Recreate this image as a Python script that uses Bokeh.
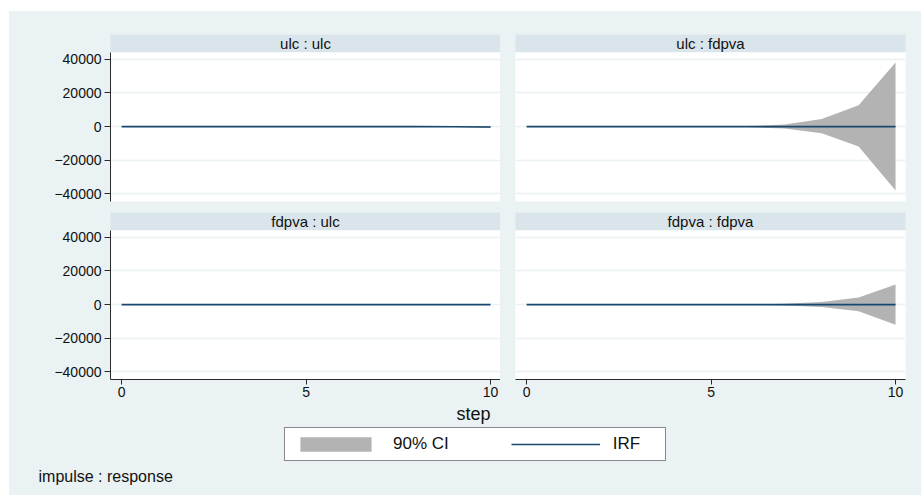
from bokeh.plotting import figure
from bokeh.layouts import column, row, Spacer
from bokeh.models import (Range1d, FixedTicker, Grid, Label, Legend, LegendItem,
                          ColumnDataSource)
from bokeh.embed import file_html
from bokeh.resources import INLINE

# ---------------- data ----------------
steps = [0, 1, 2, 3, 4, 5, 6, 7, 8, 9, 10]

ulc_ulc_irf = [0, 0, 0, 0, 0, 0, 0, 0, -20, -80, -250]
ulc_ulc_lo = [0, 0, 0, 0, 0, 0, 0, -30, -100, -300, -900]
ulc_ulc_hi = [0, 0, 0, 0, 0, 0, 0, 20, 60, 150, 400]

ulc_fdpva_irf = [0, 0, 0, 0, 0, 0, 0, 0, 0, 0, 0]
ulc_fdpva_lo = [0, 0, 0, 0, 0, -20, -300, -1200, -3950, -11850, -37900]
ulc_fdpva_hi = [0, 0, 0, 0, 0, 20, 300, 1200, 4500, 12600, 38100]

fdpva_ulc_irf = [0, 0, 0, 0, 0, 0, 0, 0, 0, 0, 0]
fdpva_ulc_lo = [0, 0, 0, 0, 0, 0, 0, 0, 0, 0, 0]
fdpva_ulc_hi = [0, 0, 0, 0, 0, 0, 0, 0, 0, 0, 0]

fdpva_fdpva_irf = [0, 0, 0, 0, 0, 0, 0, 0, 0, 0, 0]
fdpva_fdpva_lo = [0, 0, 0, 0, 0, 0, -100, -500, -1390, -3980, -11940]
fdpva_fdpva_hi = [0, 0, 0, 0, 0, 0, 100, 500, 1590, 4180, 11940]

panel_titles = ["ulc : ulc", "ulc : fdpva", "fdpva : ulc", "fdpva : fdpva"]
y_ticks = [-40000, -20000, 0, 20000, 40000]
x_ticks = [0, 5, 10]
legend_labels = ["90% CI", "IRF"]
x_title = "step"
note = "impulse : response"

# ---------------- style ----------------
BG = "#EAF2F3"
HDR = "#D9E5EA"
GRID = "#EAF2F3"
CI = "#B3B3B3"
IRF_C = "#1A476F"
AXIS_C = "#2a2a2a"
FONT = "Liberation Sans"

LEFT_W, RIGHT_W = 491, 421


def side_borders(left):
    return dict(min_border_left=101 if left else 15,
                min_border_right=0 if left else 16)


def header(text, left, top):
    p = figure(width=LEFT_W if left else RIGHT_W, height=41 if top else 18,
               x_range=Range1d(0, 1), y_range=Range1d(0, 1),
               x_axis_location=None, y_axis_location=None,
               min_border_top=23 if top else 0, min_border_bottom=0,
               background_fill_color=HDR, border_fill_color=BG,
               outline_line_color=None, output_backend="svg",
               toolbar_location=None, **side_borders(left))
    p.center = [r for r in p.center if not isinstance(r, Grid)]
    p.add_layout(Label(x=0.5, y=0.5, text=text, text_align="center",
                       text_baseline="middle", text_font=FONT,
                       text_font_size="15px", text_color="#111111"))
    return p


def panel(irf, lo, hi, left, bottom):
    p = figure(width=LEFT_W if left else RIGHT_W, height=175 if bottom else 160,
               x_range=Range1d(-0.3, 10.27), y_range=Range1d(-44500, 44000),
               x_axis_location="below" if bottom else None,
               y_axis_location="left" if left else None,
               min_border_top=0, min_border_bottom=26 if bottom else 11,
               background_fill_color="white", border_fill_color=BG,
               outline_line_color=None, output_backend="svg",
               toolbar_location=None, **side_borders(left))
    p.center = [r for r in p.center if not isinstance(r, Grid)]
    p.add_layout(Grid(dimension=1, ticker=FixedTicker(ticks=y_ticks),
                      grid_line_color=GRID, grid_line_width=1.5))
    src = ColumnDataSource(data=dict(x=steps, irf=irf, lo=lo, hi=hi))
    p.varea(x="x", y1="lo", y2="hi", source=src, fill_color=CI)
    p.line(x="x", y="irf", source=src, line_color=IRF_C, line_width=1.6)
    axes = []
    if left:
        ay = p.yaxis[0]
        ay.ticker = FixedTicker(ticks=y_ticks)
        ay.major_tick_out = 6
        ay.major_label_standoff = 3
        axes.append(ay)
    if bottom:
        ax = p.xaxis[0]
        ax.ticker = FixedTicker(ticks=x_ticks)
        ax.major_tick_out = 5
        ax.major_label_standoff = 2
        axes.append(ax)
    for a in axes:
        a.major_tick_in = 0
        a.minor_tick_line_color = None
        a.axis_line_color = AXIS_C
        a.major_tick_line_color = AXIS_C
        a.major_label_text_font = FONT
        a.major_label_text_font_size = "14px"
        a.major_label_text_color = "#111111"
    return p


p_tl = panel(ulc_ulc_irf, ulc_ulc_lo, ulc_ulc_hi, True, False)
p_tr = panel(ulc_fdpva_irf, ulc_fdpva_lo, ulc_fdpva_hi, False, False)
p_bl = panel(fdpva_ulc_irf, fdpva_ulc_lo, fdpva_ulc_hi, True, True)
p_br = panel(fdpva_fdpva_irf, fdpva_fdpva_lo, fdpva_fdpva_hi, False, True)

h_tl = header(panel_titles[0], True, True)
h_tr = header(panel_titles[1], False, True)
h_bl = header(panel_titles[2], True, False)
h_br = header(panel_titles[3], False, False)

# footer: axis title, legend, note
FW, FH = LEFT_W + RIGHT_W, 90
f = figure(width=FW, height=FH, x_range=Range1d(0, FW), y_range=Range1d(FH, 0),
           x_axis_location=None, y_axis_location=None,
           min_border_left=0, min_border_right=0, min_border_top=0,
           min_border_bottom=0, background_fill_color=BG, border_fill_color=BG,
           outline_line_color=None, output_backend="svg", toolbar_location=None)
f.center = [r for r in f.center if not isinstance(r, Grid)]
nan = float("nan")
key_src = ColumnDataSource(data=dict(x=[nan], y=[nan], y1=[nan], y2=[nan]))
r_ci = f.varea(x="x", y1="y1", y2="y2", source=key_src, fill_color=CI)
r_irf = f.line(x="x", y="y", source=key_src, line_color=IRF_C, line_width=1.6)
f.add_layout(Label(x=464, y=8, text=x_title, text_align="center",
                   text_baseline="middle", text_font=FONT,
                   text_font_size="18px", text_color="#111111"))
f.add_layout(Label(x=29, y=71, text=note, text_align="left",
                   text_baseline="middle", text_font=FONT,
                   text_font_size="16px", text_color="#111111"))
leg = Legend(items=[LegendItem(label=legend_labels[0], renderers=[r_ci]),
                    LegendItem(label=legend_labels[1], renderers=[r_irf])],
             orientation="horizontal", location=(275, 34),
             glyph_width=89, glyph_height=18, label_standoff=13, spacing=62,
             padding=6, margin=0, label_width=46, label_height=18,
             border_line_color="#111111", border_line_width=1,
             background_fill_color="white", background_fill_alpha=1.0,
             label_text_font=FONT, label_text_font_size="17px",
             label_text_color="#111111")
f.add_layout(leg)

main = column(row(h_tl, h_tr, spacing=0),
              row(p_tl, p_tr, spacing=0),
              row(h_bl, h_br, spacing=0),
              row(p_bl, p_br, spacing=0),
              f, spacing=0, styles={"background-color": BG})

layout = column(Spacer(width=FW + 9, height=11),
                row(Spacer(width=9, height=484), main, spacing=0),
                spacing=0)

open("out.html", "w").write(file_html(layout, INLINE))
